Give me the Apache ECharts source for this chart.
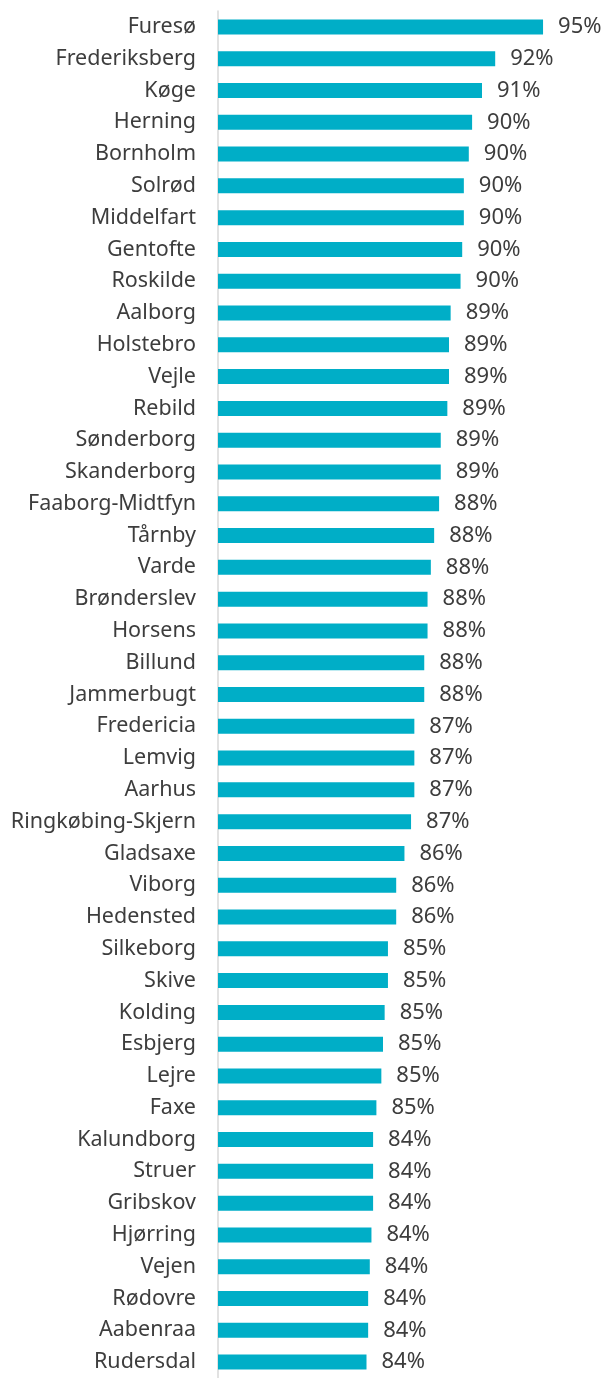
<!DOCTYPE html>
<html>
<head>
<meta charset="utf-8">
<script src="https://cdn.jsdelivr.net/npm/echarts@6/dist/echarts.min.js"></script>
<style>
  html, body { margin: 0; padding: 0; background: #fff; }
  #chart { width: 606px; height: 1378px; }
</style>
</head>
<body>
<div id="chart"></div>
<script>
// kommuner, fra top til bund
var municipalities = [
  'Furesø', 'Frederiksberg', 'Køge', 'Herning', 'Bornholm', 'Solrød', 'Middelfart',
  'Gentofte', 'Roskilde', 'Aalborg', 'Holstebro', 'Vejle', 'Rebild', 'Sønderborg',
  'Skanderborg', 'Faaborg-Midtfyn', 'Tårnby', 'Varde', 'Brønderslev', 'Horsens',
  'Billund', 'Jammerbugt', 'Fredericia', 'Lemvig', 'Aarhus', 'Ringkøbing-Skjern',
  'Gladsaxe', 'Viborg', 'Hedensted', 'Silkeborg', 'Skive', 'Kolding', 'Esbjerg',
  'Lejre', 'Faxe', 'Kalundborg', 'Struer', 'Gribskov', 'Hjørring', 'Vejen',
  'Rødovre', 'Aabenraa', 'Rudersdal'
];

// andel i procent (aflæst fra søjlerne)
var shares = [
  94.7, 91.8, 91.0, 90.4, 90.2, 89.9, 89.9,
  89.8, 89.7, 89.1, 89.0, 89.0, 88.9, 88.5,
  88.5, 88.4, 88.1, 87.9, 87.7, 87.7,
  87.5, 87.5, 86.9, 86.9, 86.9, 86.7,
  86.3, 85.8, 85.8, 85.3, 85.3, 85.1, 85.0,
  84.9, 84.6, 84.4, 84.4, 84.4, 84.3, 84.2,
  84.1, 84.1, 84.0
];

var chart = echarts.init(document.getElementById('chart'));

var option = {
  animation: false,
  backgroundColor: '#ffffff',
  grid: {
    left: 218,
    top: 11,
    width: 363,
    height: 1376,
    containLabel: false
  },
  xAxis: {
    type: 'value',
    min: 75,
    max: 97,
    show: false
  },
  yAxis: {
    type: 'category',
    data: municipalities,
    inverse: true,
    axisLine: { show: true, lineStyle: { color: '#d9d9d9', width: 1.5 } },
    axisTick: { show: false },
    axisLabel: {
      color: '#3d3d3d',
      fontFamily: 'Noto Sans',
      fontSize: 21.5,
      margin: 22
    }
  },
  series: [{
    type: 'bar',
    data: shares,
    barWidth: 15,
    itemStyle: { color: '#00aec7' },
    label: {
      show: true,
      position: 'right',
      distance: 15,
      color: '#3d3d3d',
      fontFamily: 'Noto Sans',
      fontSize: 22,
      formatter: function (p) { return Math.round(p.value) + '%'; }
    }
  }]
};

chart.setOption(option);
</script>
</body>
</html>
